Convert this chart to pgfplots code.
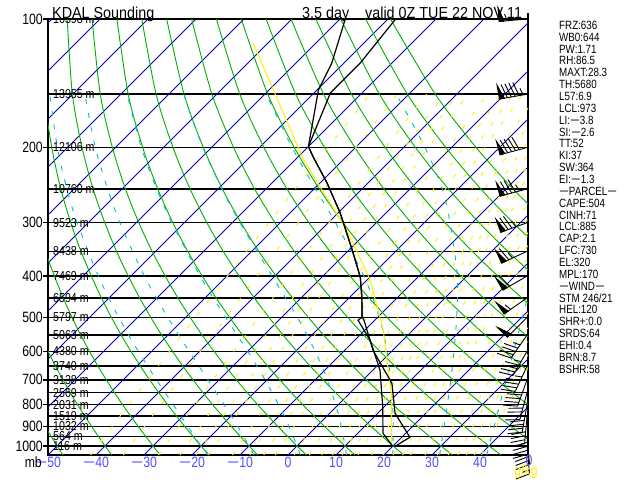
\documentclass[border=0pt]{standalone}
\usepackage{fontspec}
\setmainfont[FakeStretch=0.82]{Liberation Sans}
\newfontfamily\tf[FakeStretch=0.9]{Liberation Sans}
\usepackage{pgfplots}
\usepackage{pgfplotstable}
\pgfplotsset{compat=1.18}

\definecolor{isoblue}{RGB}{0,0,190}
\definecolor{adgreen}{RGB}{0,176,0}
\definecolor{mcyan}{RGB}{0,190,200}
\definecolor{myellow}{RGB}{255,240,0}
\definecolor{lblue}{RGB}{80,80,255}

\newcommand\mn{\scalebox{1.7}[1]{−}}
\newcommand\lab{\fontsize{15}{15}\selectfont}
\newcommand\hlab{\fontsize{13}{13}\selectfont}

% pressure levels for the background curves
\pgfplotstableread{
p
1050
1000
950
900
850
800
750
700
650
600
550
500
450
400
350
300
250
200
150
100
}\plev

% mixing ratio lines stop at 150 mb
\pgfplotstableread{
p
1050
1000
900
800
700
600
500
400
300
200
150
}\plevmr

\pgfplotstableread{
p
1050
100
}\pend

% moist adiabats, temperature (C) for wet-bulb potential temperature
\pgfplotstableread{
p    wma   wmb    wa     wb     wc     wd     we
1050 -16.6 -7.15  2.52   12.15  21.83  31.6   41.4
1000 -20   -10    0      10     20     30     40
850  -30.5 -19.97 -8.97  2.44   13.74  24.7   35.35
700  -43.06 -32.35 -20.46 -7.45 5.65   18.26  29.79
600  -52.8 -42.2  -30.0  -15.95 -0.95  12.97  25.4
500  -63.9 -53.7  -41.65 -26.7  -9.63  6.47   20.18
400  -76.8 -67.2  -55.6  -40.6  -21.47 -2.0   13.72
300  -92.3 -83.4  -72.6  -58.4  -38.5  -14.63 5.18
250  -101.5 -93.0 -82.8  -69.2  -49.7  -23.3  -0.53
200  -112.1 -104.2 -94.6 -81.8  -63.2  -35.5  -7.86
150  -124.8 -117.5 -108.7 -96.9 -79.7  -52.6  -18.5
}\moist

% temperature
\pgfplotstableread{
p T
100 -68.4
127 -66.6
149 -66.6
199 -60.0
210.6 -56.8
242.3 -48.5
284.9 -39.5
347.8 -29.3
402.3 -22.0
448.2 -17.5
499.3 -13.3
507.5 -12.25
596.9 -4.1
713.1 6.7
838.3 13.6
954.1 21.7
1001.6 20.5
}\temp

% dewpoint
\pgfplotstableread{
p T
100 -78.9
127 -72.5
146.7 -69.7
199 -60.0
210.6 -56.8
242.3 -48.5
284.9 -39.5
347.8 -29.3
402.3 -22.0
448.2 -17.5
499.3 -13.3
507.5 -13.5
565.3 -6.8
664.6 1.5
811.7 9.8
933.8 15.25
1001.6 20.0
}\dewp

% lifted parcel
\pgfplotstableread{
p T
114 -93.0
214 -58.2
312.2 -34.6
408.9 -19.3
535.6 -6.15
767.9 9.5
996 19.56
}\parcel

% wind: direction (deg), speed (kt)
\pgfplotstableread{
p dir spd
100 265 55
150 260 95
200 255 90
250 255 85
300 250 75
350 245 65
400 240 60
450 235 55
500 225 50
550 215 45
600 210 45
650 205 45
700 200 40
750 195 40
800 190 40
850 185 40
900 180 35
950 175 30
1000 175 15
}\wind

\pgfdeclareplotmark{wbarb}{%
  \pgfmathsetmacro\wang{90-\wdir}%
  \pgftransformrotate{\wang}%
  \pgfpathmoveto{\pgfpointorigin}%
  \pgfpathlineto{\pgfpoint{28bp}{0bp}}%
  \pgfusepathqstroke
  \pgfmathtruncatemacro\npen{floor(\wspd/50)}%
  \pgfmathtruncatemacro\nful{floor((\wspd-50*\npen)/10)}%
  \pgfmathtruncatemacro\nhal{((\wspd-50*\npen-10*\nful)>=5) ? 1 : 0}%
  \ifnum\npen>0
    \foreach \k in {1,...,\npen}{%
      \pgfmathsetmacro\q{28-(\k-1)*7}%
      \pgfpathmoveto{\pgfpoint{\q bp}{0bp}}%
      \pgfpathlineto{\pgfpoint{\q bp}{-14bp}}%
      \pgfpathlineto{\pgfpoint{(\q-5)*1bp}{0bp}}%
      \pgfpathclose
      \pgfusepathqfillstroke
    }%
  \fi
  \pgfmathsetmacro\fst{28-\npen*7-(\npen>0 ? 1 : 0)}%
  \ifnum\nful>0
    \foreach \k in {1,...,\nful}{%
      \pgfmathsetmacro\q{\fst-(\k-1)*4}%
      \pgfpathmoveto{\pgfpoint{\q bp}{0bp}}%
      \pgfpathlineto{\pgfpoint{(\q+4)*1bp}{-14bp}}%
      \pgfusepathqstroke
    }%
  \fi
  \ifnum\nhal>0
    \pgfmathsetmacro\q{\fst-\nful*4}%
    \pgfpathmoveto{\pgfpoint{\q bp}{0bp}}%
    \pgfpathlineto{\pgfpoint{(\q+2)*1bp}{-7bp}}%
    \pgfusepathqstroke
  \fi
}

\begin{document}
\begin{tikzpicture}
\path[use as bounding box] (0,0) rectangle (640bp,480bp);
\fill[white] (0,0) rectangle (640bp,480bp);
\begin{axis}[
  at={(48bp,25bp)}, anchor=south west,
  scale only axis, width=480bp, height=436bp,
  xmin=-50, xmax=50,
  ymode=log, ymin=100, ymax=1050, y dir=reverse,
  axis line style={black, line width=1.4bp},
  xtick={-50,-40,-30,-20,-10,0,10,20,30,40},
  xticklabels={\mn50,\mn40,\mn30,\mn20,\mn10,0,10,20,30,40},
  xtick style={draw=none},
  xticklabel style={font=\lab, text=lblue, anchor=center, yshift=-2bp},
  ytick={100,200,300,400,500,600,700,800,900,1000},
  yticklabels={100,200,300,400,500,600,700,800,900,1000},
  yminorticks=false,
  ytick pos=left, tick align=outside, major tick length=5bp,
  ytick style={black, line width=1.4bp},
  yticklabel style={font=\lab, anchor=east, inner sep=0pt},
  extra y ticks={150,250,350,450,550,650,750,850,950},
  extra y tick labels={},
  extra y tick style={grid=major, major tick length=0pt},
  ymajorgrids, grid style={black, line width=1.4bp},
]
% isotherms
\pgfplotsinvokeforeach{-150,-140,...,50}{
  \addplot[isoblue, line width=0.8bp] table[x expr={#1+38.631*ln(1050/\thisrow{p})}, y=p]{\pend};
}
% dry adiabats (theta in C)
\pgfplotsinvokeforeach{-50,-40,...,120}{
  \addplot[adgreen, line width=0.9bp, smooth] table[x expr={(#1+273.15)*(\thisrow{p}/1000)^0.2857-273.15+38.631*ln(1050/\thisrow{p})}, y=p]{\plev};
}
% mixing ratio lines (g/kg)
\pgfplotsinvokeforeach{0.1,0.2,0.4,0.6,0.8,1,1.5,2,2.5,3,4,5,6,7,8,9,10,12,14,16,18,20,24,28,32,36,40,44,48}{
  \addplot[myellow, line width=0.9bp, dash pattern=on 4bp off 12bp] table[x expr={243.5*ln(#1*\thisrow{p}/(622+#1)/6.112)/(17.67-ln(#1*\thisrow{p}/(622+#1)/6.112))+38.631*ln(1050/\thisrow{p})}, y=p]{\plevmr};
}
% moist adiabats
\pgfplotsinvokeforeach{wma,wmb,wa,wb,wc,wd,we}{
  \addplot[mcyan, line width=0.9bp, dash pattern=on 5bp off 9bp, smooth] table[x expr={\thisrow{#1}+38.631*ln(1050/\thisrow{p})}, y=p]{\moist};
}
% parcel
\addplot[myellow, line width=1bp] table[x expr={\thisrow{T}+38.631*ln(1050/\thisrow{p})}, y=p]{\parcel};
% sounding
\addplot[black, line width=1.2bp] table[x expr={\thisrow{T}+38.631*ln(1050/\thisrow{p})}, y=p]{\temp};
\addplot[black, line width=1.2bp] table[x expr={\thisrow{T}+38.631*ln(1050/\thisrow{p})}, y=p]{\dewp};
% wind barbs
\addplot[scatter, only marks, mark=wbarb, point meta=\thisrow{spd},
  scatter/use mapped color={draw=black, fill=black},
  mark options={line width=0.9bp},
  visualization depends on={\thisrow{dir}\as\wdir},
  visualization depends on={\thisrow{spd}\as\wspd}]
  table[x expr=49.8, y=p]{\wind};

% heights of the isobars
\begin{scope}[every node/.style={font=\hlab, anchor=west, inner sep=0pt}]
\node at (axis cs:-48.96,100) {16398 m};
\node at (axis cs:-48.96,150) {13955 m};
\node at (axis cs:-48.96,200) {12106 m};
\node at (axis cs:-48.96,250) {10760 m};
\node at (axis cs:-48.96,300) {9523 m};
\node at (axis cs:-48.96,350) {8438 m};
\node at (axis cs:-48.96,400) {7469 m};
\node at (axis cs:-48.96,450) {6594 m};
\node at (axis cs:-48.96,500) {5797 m};
\node at (axis cs:-48.96,550) {5063 m};
\node at (axis cs:-48.96,600) {4380 m};
\node at (axis cs:-48.96,650) {3740 m};
\node at (axis cs:-48.96,700) {3138 m};
\node at (axis cs:-48.96,750) {2569 m};
\node at (axis cs:-48.96,800) {2031 m};
\node at (axis cs:-48.96,850) {1519 m};
\node at (axis cs:-48.96,900) {1032 m};
\node at (axis cs:-48.96,950) {564 m};
\node at (axis cs:-48.96,1000) {116 m};
\end{scope}
% mixing ratio labels
\begin{scope}[every node/.style={font=\lab, text=myellow, anchor=center, inner sep=0pt, yshift=-17bp}]
\node at (axis cs:-40.83,1050) {0.1};
\node at (axis cs:-33.96,1050) {0.2};
\node at (axis cs:-22.08,1050) {0.6};
\node at (axis cs:-16.88,1050) {1.0};
\node at (axis cs:-8.33,1050) {2.0};
\node at (axis cs:-2.71,1050) {3.0};
\node at (axis cs:5.0,1050) {5.0};
\node at (axis cs:14.58,1050) {10.0};
\node at (axis cs:26.46,1050) {20.0};
\node at (axis cs:38.54,1050) {40.0};
\end{scope}
\end{axis}
\draw[line width=1.4bp] (528bp,461bp) -- (528bp,467bp);
\node[font=\lab, anchor=east, inner sep=0pt] at (42bp,18bp) {mb};
\node[font=\lab, text=lblue, inner sep=0pt] at (529bp,20bp) {0};
\node[font=\lab, text=myellow, inner sep=0pt] at (526bp,8bp) {g/kg};
\node[font=\tf\fontsize{16}{16}\selectfont, anchor=base west, inner sep=0pt] at (52bp,461.7bp) {KDAL Sounding};
\node[font=\tf\fontsize{16}{16}\selectfont, anchor=base west, inner sep=0pt] at (302bp,461.7bp) {3.5 day};
\node[font=\tf\fontsize{16}{16}\selectfont, anchor=base west, inner sep=0pt] at (365bp,461.7bp) {valid 0Z TUE 22 NOV 11};
\foreach \s [count=\i] in {FRZ:636,WB0:644,PW:1.71,RH:86.5,MAXT:28.3,TH:5680,L57:6.9,LCL:973,LI:\mn3.8,SI:\mn2.6,TT:52,KI:37,SW:364,EI:\mn1.3,\mn PARCEL\mn,CAPE:504,CINH:71,LCL:885,CAP:2.1,LFC:730,EL:320,MPL:170,\mn WIND\mn,STM 246/21,HEL:120,SHR+:0.0,SRDS:64,EHI:0.4,BRN:8.7,BSHR:58}{
  \node[font=\fontsize{12}{12}\selectfont, anchor=base west, inner sep=0pt] at (559bp,{(480-29.3-(\i-1)*11.86)*1bp}) {\s};
}
\end{tikzpicture}
\end{document}
